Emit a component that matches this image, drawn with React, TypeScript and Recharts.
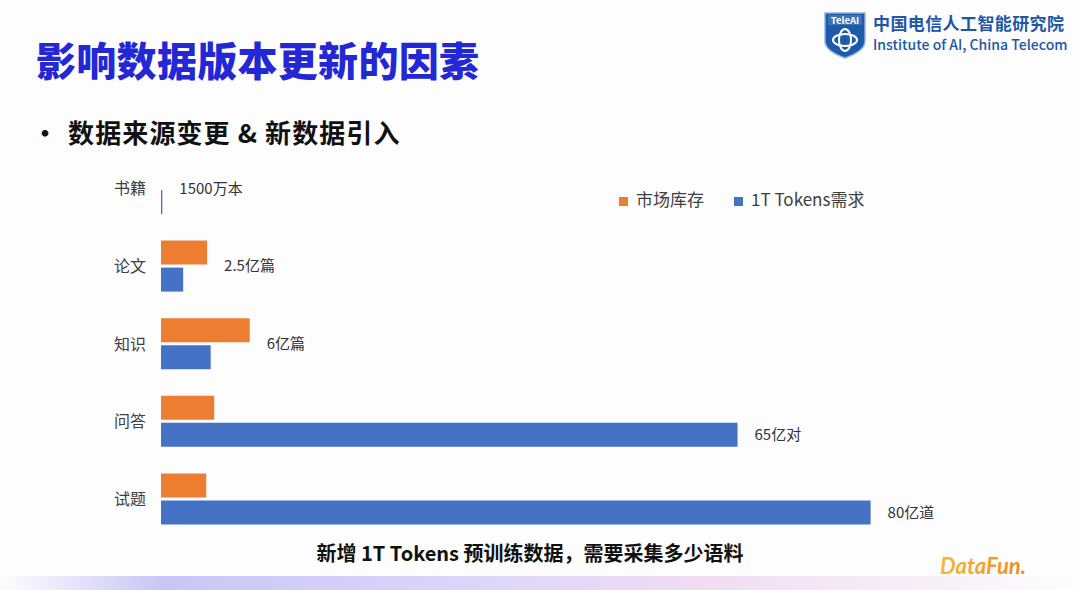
import React from 'react';
import { BarChart, Bar, XAxis, YAxis, Legend, LabelList } from 'recharts';

// categories and values (亿)
const categories = ['书籍', '论文', '知识', '问答', '试题'];
const stock = [0, 5.2, 10, 6, 5.1];
const demand = [0.15, 2.5, 5.6, 65, 80];
const demandLabels = ['1500万本', '2.5亿篇', '6亿篇', '65亿对', '80亿道'];

const ORANGE = '#ED7D31';
const BLUE = '#4472C4';
const FONT = '"Noto Sans CJK SC", "Noto Sans", sans-serif';

const data = categories.map((name, i) => ({ name, stock: stock[i], demand: demand[i] }));

// label sits after the longer bar; on the blue bar if it dominates, otherwise on the category centre
const DemandLabel = (props: any) => {
  const { x, y, width, height, value, index } = props;
  const i = typeof index === 'number' ? index : demand.indexOf(value);
  const pxPerUnit = value ? width / value : 0;
  const blueEnd = x + width;
  const orangeEnd = x + stock[i] * pxPerUnit;
  const blueLeads = blueEnd - orangeEnd > 100;
  const tx = Math.max(blueEnd, orangeEnd) + 17;
  const ty = blueLeads ? y + height / 2 : y - 1.5;
  return (
    <text x={tx} y={ty} dy="0.35em" fill="#333" fontSize={15} fontFamily={FONT}>
      {demandLabels[i]}
    </text>
  );
};

const Shield = () => (
  <svg width={44} height={48} style={{ position: 'absolute', left: 823, top: 11 }}>
    <path d="M2 2 H42 V30 Q42 40 22 47 Q2 40 2 30 Z" fill="#1d5aa8" stroke="#8fb3e0" strokeWidth={1.5} />
    <rect x={5} y={4} width={34} height={10} fill="#fff" opacity={0.15} />
    <text x={22} y={12.5} textAnchor="middle" fill="#fff" fontSize={9.5} fontWeight={700} fontFamily={FONT}>
      TeleAI
    </text>
    <ellipse cx={22} cy={29} rx={12} ry={6} fill="none" stroke="#fff" strokeWidth={2} />
    <ellipse cx={22} cy={29} rx={6} ry={11} fill="none" stroke="#fff" strokeWidth={2} />
  </svg>
);

export default function App() {
  return (
    <div
      style={{
        position: 'fixed',
        left: 0,
        top: 0,
        width: 1080,
        height: 590,
        overflow: 'hidden',
        background: '#fdfdfe',
        fontFamily: FONT,
      }}
    >
      {/* title */}
      <div
        style={{
          position: 'absolute',
          left: 36,
          top: 32,
          fontSize: 40,
          fontWeight: 900,
          color: '#2428d4',
          lineHeight: '54px',
          letterSpacing: 0.3,
        }}
      >
        影响数据版本更新的因素
      </div>

      {/* bullet */}
      <div
        style={{
          position: 'absolute',
          left: 32,
          top: 114,
          fontSize: 26,
          fontWeight: 700,
          color: '#111',
          lineHeight: '36px',
          letterSpacing: 1.1,
          whiteSpace: 'pre',
        }}
      >
        <span style={{ marginRight: 9 }}>•</span>数据来源变更 &amp; 新数据引入
      </div>

      {/* logo */}
      <Shield />
      <div
        style={{
          position: 'absolute',
          left: 873,
          top: 12,
          fontSize: 17,
          fontWeight: 700,
          color: '#1d57a6',
          lineHeight: '21px',
          letterSpacing: 0.4,
          whiteSpace: 'nowrap',
        }}
      >
        中国电信人工智能研究院
      </div>
      <div
        style={{
          position: 'absolute',
          left: 873,
          top: 36,
          fontSize: 14,
          fontWeight: 500,
          color: '#1d57a6',
          lineHeight: '16px',
          whiteSpace: 'nowrap',
        }}
      >
        Institute of AI, China Telecom
      </div>

      <BarChart
        width={1080}
        height={590}
        data={data}
        layout="vertical"
        margin={{ top: 150, right: 32, bottom: 52, left: 0 }}
        barSize={24}
        barGap={3}
        style={{ position: 'absolute', left: 0, top: 0, fontFamily: FONT }}
      >
        <XAxis type="number" domain={[0, 100]} hide />
        <YAxis
          type="category"
          dataKey="name"
          width={161}
          axisLine={false}
          tickLine={false}
          tickSize={0}
          tickMargin={15}
          tick={{ fill: '#404040', fontSize: 16 }}
        />
        <Legend
          verticalAlign="middle"
          align="center"
          iconType="square"
          iconSize={9}
          itemSorter={(item: any) => (item.dataKey === 'stock' ? 0 : 1)}
          wrapperStyle={{ top: 186, left: 619, width: 'auto' }}
          formatter={(v: string) => (
            <span style={{ color: '#404040', fontSize: 17, paddingLeft: 4, marginRight: 20 }}>{v}</span>
          )}
        />
        <Bar dataKey="stock" name="市场库存" fill={ORANGE} isAnimationActive={false} />
        <Bar dataKey="demand" name="1T Tokens需求" fill={BLUE} isAnimationActive={false}>
          <LabelList dataKey="demand" content={DemandLabel} />
        </Bar>
      </BarChart>

      {/* caption */}
      <div
        style={{
          position: 'absolute',
          left: 0,
          width: 1060,
          top: 539,
          textAlign: 'center',
          fontSize: 20,
          fontWeight: 700,
          color: '#111',
          lineHeight: '28px',
        }}
      >
        新增 1T Tokens 预训练数据，需要采集多少语料
      </div>

      {/* footer strip */}
      <div
        style={{
          position: 'absolute',
          left: 0,
          top: 576,
          width: 1080,
          height: 14,
          background:
            'linear-gradient(90deg, rgba(255,255,255,0) 0%, #c9c6f6 15%, #d8d4fb 40%, #f1dcf3 65%, #f7eef8 85%, rgba(255,255,255,0) 100%)',
        }}
      />

      {/* DataFun mark */}
      <svg width={120} height={34} style={{ position: 'absolute', left: 936, top: 549 }}>
        <defs>
          <linearGradient id="df" x1="0" x2="1" y1="0" y2="0">
            <stop offset="0%" stopColor="#f6b73c" />
            <stop offset="100%" stopColor="#f08a24" />
          </linearGradient>
        </defs>
        <text x={4} y={25} fill="url(#df)" fontSize={22} fontWeight={700} fontStyle="italic" fontFamily="Lato, sans-serif">
          DataFun.
        </text>
      </svg>
    </div>
  );
}
